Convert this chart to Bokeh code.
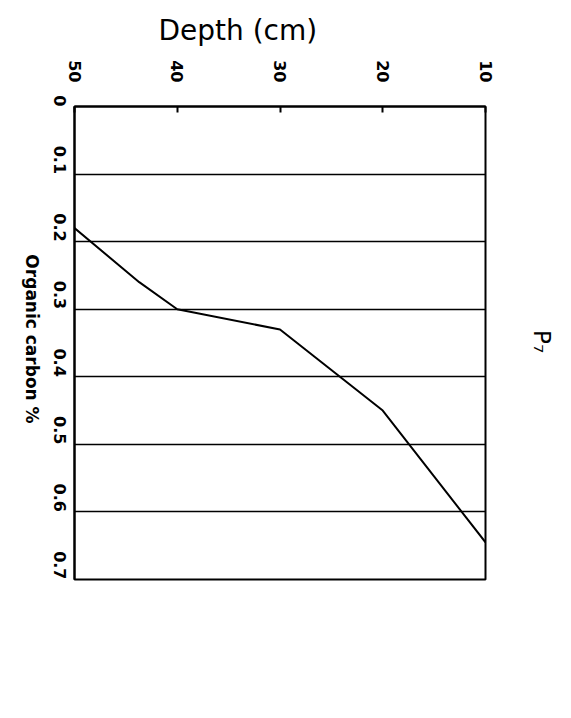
import math
from bokeh.plotting import figure
from bokeh.layouts import row
from bokeh.models import Range1d, FixedTicker, Title
from bokeh.core.properties import value
from bokeh.embed import file_html
from bokeh.resources import INLINE

# ---- data ----
depth_cm = [50, 43.7, 40, 30, 20, 10]
organic_carbon = [0.18, 0.26, 0.30, 0.33, 0.45, 0.645]

depth_ticks = [50, 40, 30, 20, 10]
depth_tick_labels = ["50", "40", "30", "20", "10"]
oc_ticks = [0, 0.1, 0.2, 0.3, 0.4, 0.5, 0.6, 0.7]
oc_tick_labels = ["0", "0.1", "0.2", "0.3", "0.4", "0.5", "0.6", "0.7"]

x_title = "Depth (cm)"
y_title = "Organic carbon %"
panel_title = "P\u2087"

FONT = "DejaVu Sans"
H = 708
LEFT_W, MAIN_W, RIGHT_W = 44, 453, 74


def side_figure(w):
    f = figure(width=w, height=H, output_backend="svg", toolbar_location=None,
               x_axis_type=None, y_axis_type=None,
               x_range=Range1d(0, w), y_range=Range1d(H, 0),
               min_border=0)
    f.outline_line_color = None
    f.background_fill_color = "white"
    f.border_fill_color = "white"
    f.grid.visible = False
    return f


# ---- main plot ----
p = figure(width=MAIN_W, height=H, output_backend="svg", toolbar_location=None,
           x_range=Range1d(50, 10), y_range=Range1d(0.7, 0),
           x_axis_location="above",
           min_border_left=29, min_border_right=12,
           min_border_top=104, min_border_bottom=129)

p.background_fill_color = "white"
p.border_fill_color = "white"
p.outline_line_color = "black"
p.outline_line_width = 2

xa = p.xaxis[0]
xa.ticker = FixedTicker(ticks=depth_ticks)
xa.major_label_overrides = dict(zip(depth_ticks, depth_tick_labels))
xa.major_label_orientation = -math.pi / 2
xa.major_label_text_font = FONT
xa.major_label_text_font_style = "bold"
xa.major_label_text_font_size = "16px"
xa.major_label_text_color = "black"
xa.major_label_standoff = 24
xa.major_tick_in = 6
xa.major_tick_out = 0
xa.major_tick_line_width = 2
xa.major_tick_line_color = "black"
xa.minor_tick_line_color = None
xa.axis_line_width = 2
xa.axis_line_color = "black"

ya = p.yaxis[0]
ya.ticker = FixedTicker(ticks=oc_ticks)
ya.major_label_overrides = dict(zip(oc_ticks, oc_tick_labels))
ya.major_label_orientation = -math.pi / 2
ya.major_label_text_font = FONT
ya.major_label_text_font_style = "bold"
ya.major_label_text_font_size = "16px"
ya.major_label_text_color = "black"
ya.major_label_standoff = 15
ya.major_tick_in = 0
ya.major_tick_out = 0
ya.minor_tick_line_color = None
ya.axis_line_width = 2
ya.axis_line_color = "black"

p.xgrid.grid_line_color = None
p.ygrid.ticker = FixedTicker(ticks=oc_ticks)
p.ygrid.grid_line_color = "black"
p.ygrid.grid_line_width = 1.6
p.ygrid.grid_line_alpha = 1.0

p.line(depth_cm, organic_carbon, line_color="black", line_width=2)

p.add_layout(Title(text=x_title, align="left", offset=84, standoff=22,
                   text_font=FONT, text_font_size="28px",
                   text_font_style="normal", text_color="black"), "above")

# ---- left strip: y-axis title (reads top to bottom) ----
left = side_figure(LEFT_W)
left.text(x=[31], y=[348], text=[y_title], angle=-math.pi / 2,
          text_font=value(FONT), text_font_style="bold", text_font_size="17px",
          text_align="center", text_baseline="middle", text_color="black")

# ---- right strip: panel label ----
right = side_figure(RIGHT_W)
right.text(x=[44], y=[352], text=[panel_title], angle=-math.pi / 2,
           text_font=value(FONT), text_font_size="23px",
           text_align="center", text_baseline="middle", text_color="black")

layout = row(left, p, right, spacing=0)
open("out.html", "w").write(file_html(layout, INLINE))
